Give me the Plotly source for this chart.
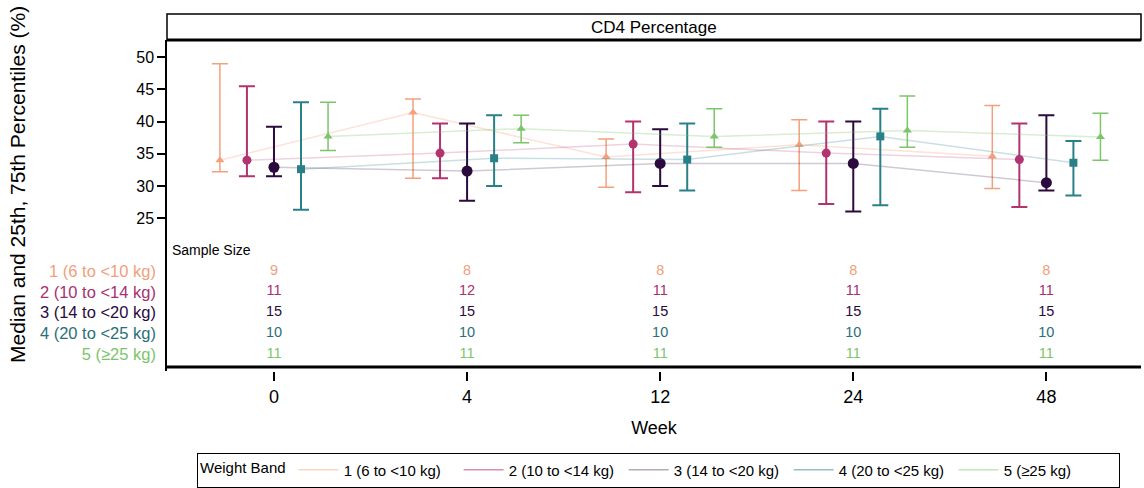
import plotly.graph_objects as go

# ---------------- data ----------------
weeks = ["0", "4", "12", "24", "48"]
bands = ["1 (6 to <10 kg)", "2 (10 to <14 kg)", "3 (14 to <20 kg)",
         "4 (20 to <25 kg)", "5 (≥25 kg)"]

median_b1 = [34.0, 41.4, 34.5, 36.4, 34.6]
median_b2 = [34.0, 35.1, 36.5, 35.1, 34.1]
median_b3 = [32.9, 32.3, 33.5, 33.5, 30.5]
median_b4 = [32.6, 34.3, 34.1, 37.7, 33.6]
median_b5 = [37.7, 38.9, 37.7, 38.6, 37.6]

q1_b1 = [32.2, 31.2, 29.8, 29.3, 29.6]
q1_b2 = [31.5, 31.2, 29.0, 27.2, 26.7]
q1_b3 = [31.5, 27.7, 30.0, 26.0, 29.3]
q1_b4 = [26.3, 30.0, 29.3, 27.0, 28.5]
q1_b5 = [35.5, 36.7, 36.0, 36.0, 34.0]

q3_b1 = [49.0, 43.5, 37.3, 40.3, 42.5]
q3_b2 = [45.5, 39.7, 40.0, 40.0, 39.7]
q3_b3 = [39.2, 39.7, 38.8, 40.0, 41.0]
q3_b4 = [43.0, 41.0, 39.7, 42.0, 37.0]
q3_b5 = [43.0, 41.0, 42.0, 44.0, 41.3]

n_b1 = [9, 8, 8, 8, 8]
n_b2 = [11, 12, 11, 11, 11]
n_b3 = [15, 15, 15, 15, 15]
n_b4 = [10, 10, 10, 10, 10]
n_b5 = [11, 11, 11, 11, 11]

y_ticks = [25, 30, 35, 40, 45, 50]

medians = [median_b1, median_b2, median_b3, median_b4, median_b5]
q1s = [q1_b1, q1_b2, q1_b3, q1_b4, q1_b5]
q3s = [q3_b1, q3_b2, q3_b3, q3_b4, q3_b5]
ns = [n_b1, n_b2, n_b3, n_b4, n_b5]

# ---------------- styles ----------------
colors = ["#F4A07C", "#B3336F", "#2B0A3D", "#2A8089", "#7DC46B"]
label_colors = ["#F0A07C", "#A8306E", "#2B0A3D", "#2A6F78", "#7CC46B"]
line_colors = ["rgba(244,160,124,0.30)", "rgba(179,51,111,0.22)",
               "rgba(43,10,61,0.22)", "rgba(42,128,137,0.25)",
               "rgba(125,196,107,0.30)"]
legend_line_colors = ["rgba(244,160,124,0.45)", "rgba(179,51,111,0.55)",
                      "rgba(43,10,61,0.35)", "rgba(42,128,137,0.5)",
                      "rgba(125,196,107,0.45)"]
symbols = ["triangle-up", "circle", "circle", "square", "triangle-up"]
msizes = [8, 9, 11, 8, 8]
ebar_w = [1.5, 2, 2, 2, 1.5]
offsets = [-0.28, -0.14, 0.0, 0.14, 0.28]

FONT = "Liberation Sans, Arial, sans-serif"

fig = go.Figure()

for k in range(len(bands)):
    xs = [i + offsets[k] for i in range(len(weeks))]
    med = medians[k]
    fig.add_trace(go.Scatter(
        x=xs, y=med, mode="lines+markers",
        line=dict(color=line_colors[k], width=1.5),
        marker=dict(symbol=symbols[k], size=msizes[k], color=colors[k]),
        error_y=dict(type="data", symmetric=False,
                     array=[q3s[k][i] - med[i] for i in range(len(med))],
                     arrayminus=[med[i] - q1s[k][i] for i in range(len(med))],
                     color=colors[k], thickness=ebar_w[k], width=8),
        showlegend=False, xaxis="x", yaxis="y", hoverinfo="skip"))

# sample size table
for k in range(len(bands)):
    fig.add_trace(go.Scatter(
        x=list(range(len(weeks))), y=[k] * len(weeks),
        text=[str(v) for v in ns[k]], mode="text",
        textfont=dict(color=label_colors[k], size=14.5, family=FONT),
        showlegend=False, xaxis="x", yaxis="y2", hoverinfo="skip"))

# legend entries (line only)
for k in range(len(bands)):
    fig.add_trace(go.Scatter(
        x=[None], y=[None], mode="lines", name=bands[k],
        line=dict(color=legend_line_colors[k], width=1.5),
        xaxis="x", yaxis="y"))

# ---------------- layout ----------------
L, R, T, B = 167, 1141, 40, 371   # plot area in px
H = B - T
def py(ypx):
    return (B - ypx) / H
def px(xpx):
    return (xpx - L) / (R - L)

split = py(232)

fig.update_layout(
    width=1144, height=488,
    margin=dict(l=L, r=1144 - R, t=T, b=488 - B, autoexpand=False),
    paper_bgcolor="white", plot_bgcolor="white",
    font=dict(family=FONT, color="black"),
    xaxis=dict(
        anchor="y2", range=[-0.554, 4.49],
        tickvals=list(range(len(weeks))), ticktext=weeks,
        ticks="outside", ticklen=9, tickwidth=1.5, tickcolor="black",
        showline=False, showgrid=False, zeroline=False,
        tickfont=dict(size=18),
        title=dict(text="Week", font=dict(size=18), standoff=15)),
    yaxis=dict(
        domain=[split, 1], anchor="x", range=[22.83, 52.69],
        tickvals=y_ticks, ticks="outside", ticklen=8, tickwidth=1.5,
        tickcolor="black", showline=True, linecolor="black", linewidth=1.5,
        showgrid=False, zeroline=False, tickfont=dict(size=16)),
    yaxis2=dict(
        domain=[0, split], anchor="x", range=[4.81, -1.875],
        tickvals=list(range(len(bands))),
        ticktext=[f"<span style='color:{label_colors[k]}'>{bands[k]}</span>"
                  for k in range(len(bands))],
        ticks="", showline=True, linecolor="black", linewidth=1.5,
        showgrid=False, zeroline=False, tickfont=dict(size=16.5),
        ticklabelstandoff=6),
    legend=dict(
        orientation="h", x=px(197), y=py(487.5), xanchor="left", yanchor="bottom",
        bordercolor="black", borderwidth=1, bgcolor="white",
        font=dict(size=15), title=dict(text="Weight Band", side="left",
                                       font=dict(size=15)),
        entrywidth=110, itemwidth=40),
    shapes=[
        dict(type="rect", xref="paper", yref="paper", x0=0, x1=1,
             y0=1, y1=py(14), line=dict(color="black", width=1.5)),
        dict(type="line", xref="paper", yref="paper", x0=0, x1=1,
             y0=1, y1=1, line=dict(color="black", width=3)),
        dict(type="line", xref="paper", yref="paper", x0=0, x1=1,
             y0=py(367), y1=py(367), line=dict(color="black", width=3)),
    ],
    annotations=[
        dict(text="CD4 Percentage", xref="paper", yref="paper", x=0.5, y=py(27),
             showarrow=False, font=dict(size=17), xanchor="center", yanchor="middle"),
        dict(text="Median and 25th, 75th Percentiles (%)", xref="paper", yref="paper",
             x=px(17), y=py(185), textangle=-90, showarrow=False,
             font=dict(size=21), xanchor="center", yanchor="middle"),
        dict(text="Sample Size", xref="paper", yref="y2", x=px(170), y=-1,
             showarrow=False, font=dict(size=14), xanchor="left", yanchor="middle"),
    ],
)

fig.write_html("out.html")
